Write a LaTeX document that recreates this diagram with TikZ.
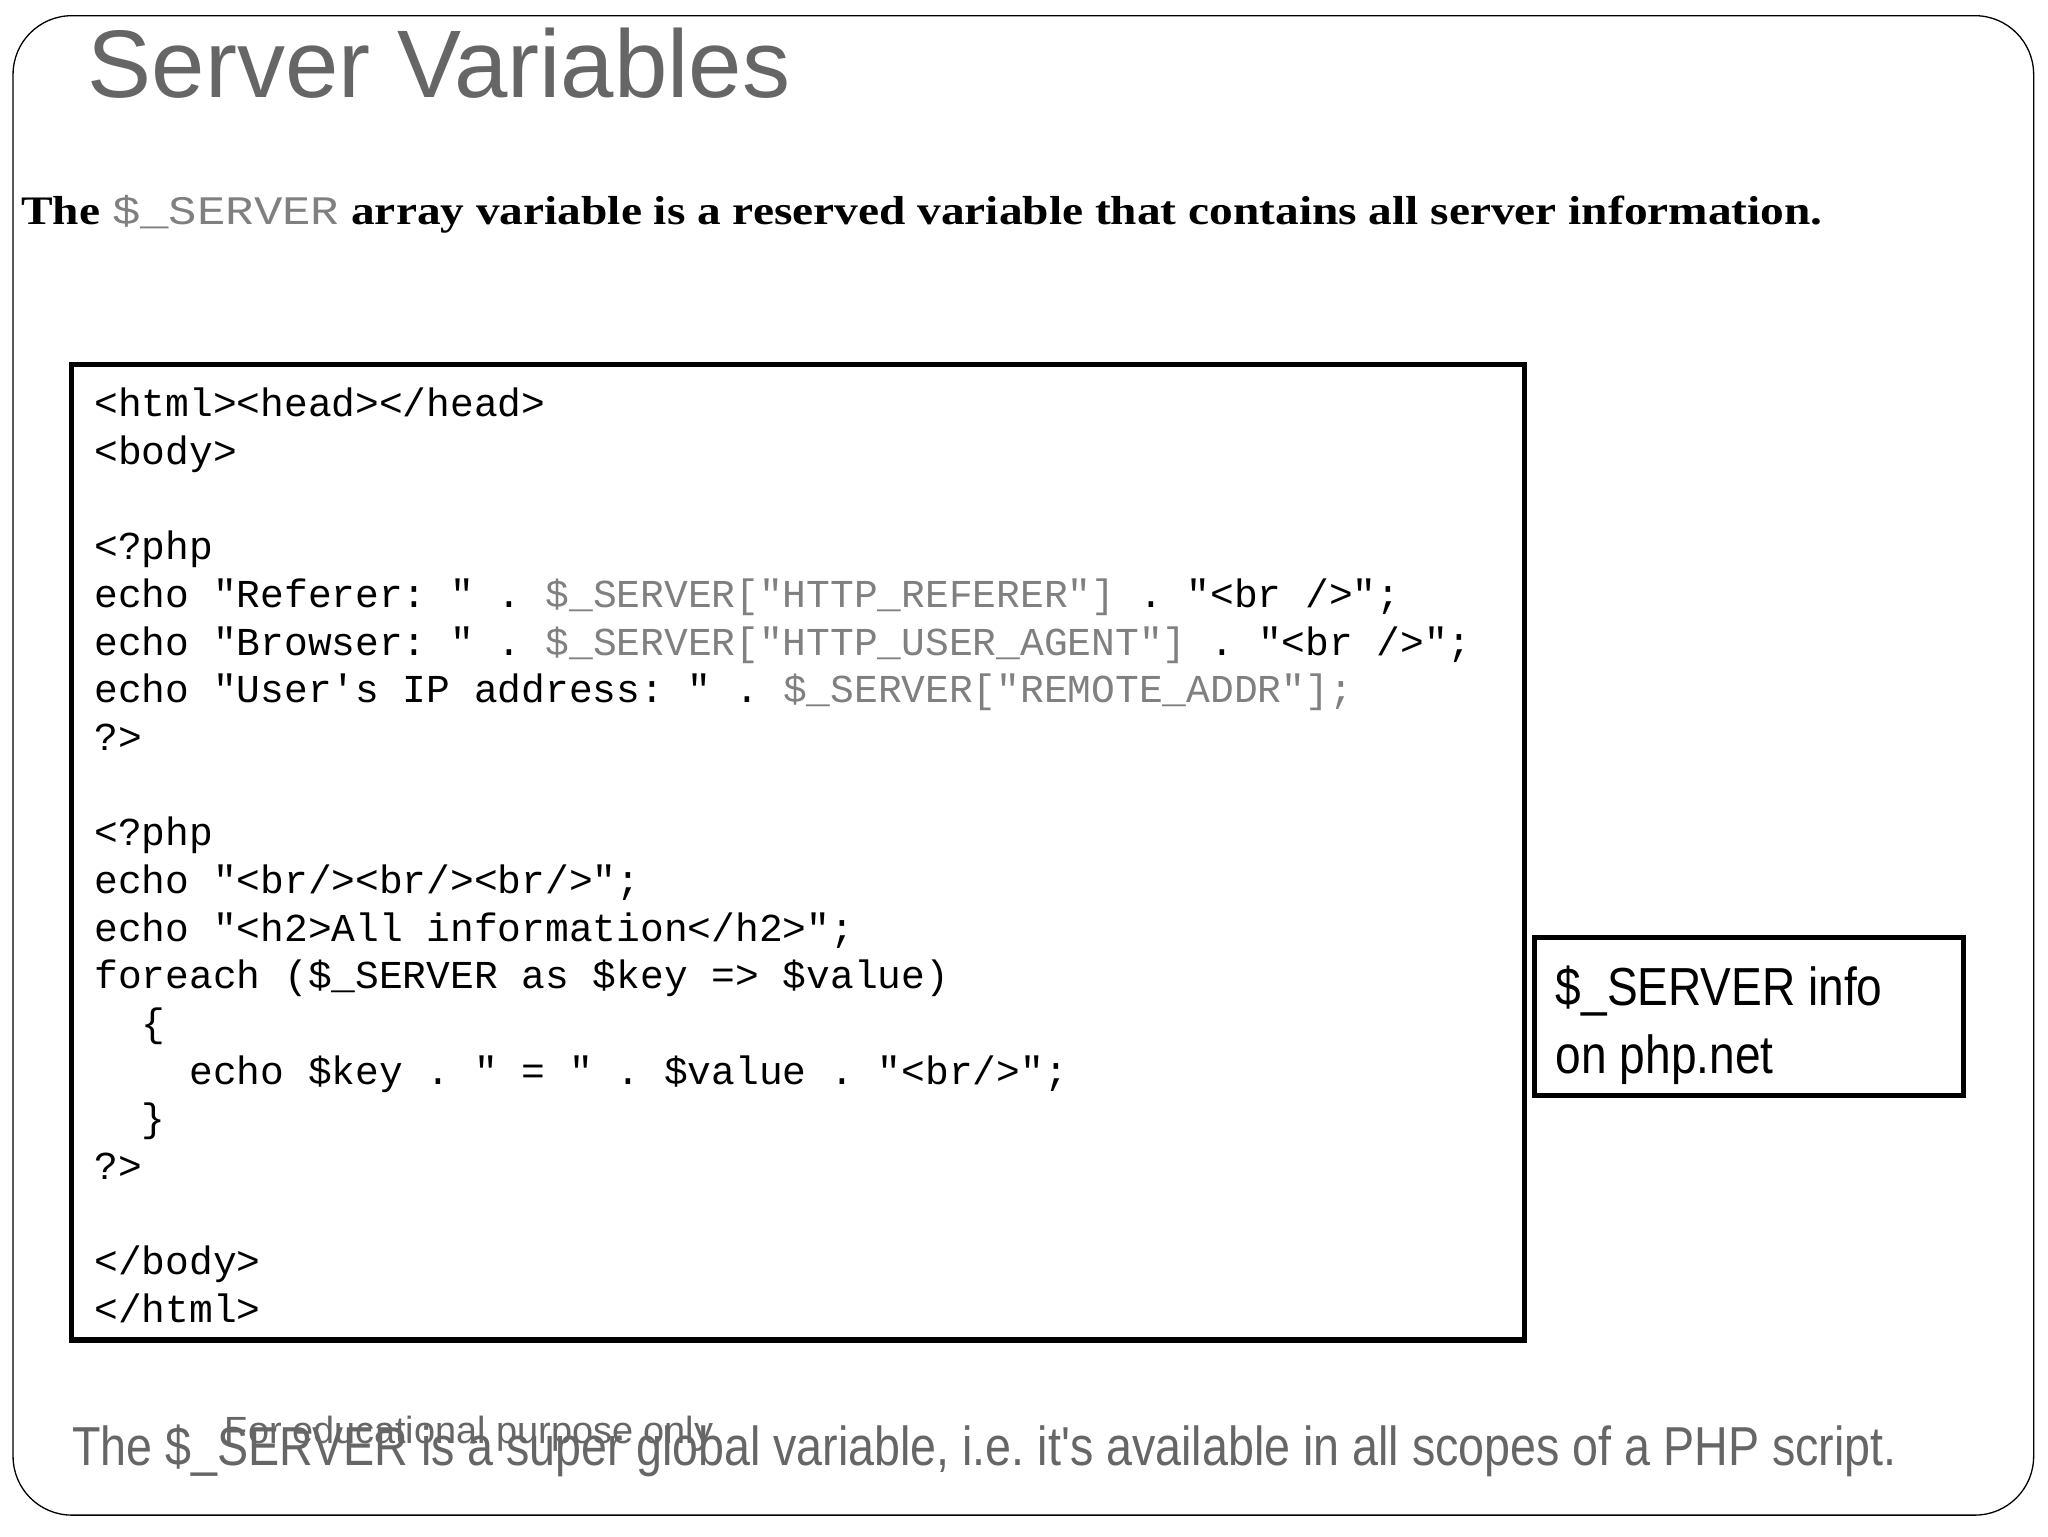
\documentclass[tikz,border=0pt]{standalone}
\usepackage{fontspec}
\setmainfont{Liberation Serif}
\newfontfamily\sansf{Liberation Sans}
\newfontfamily\codef{Liberation Mono}
\definecolor{tgray}{gray}{0.4}
\definecolor{cgray}{gray}{0.5}
\newcommand{\g}[1]{\textcolor{cgray}{#1}}
\newcommand{\ap}{\char39\relax}
\frenchspacing
\begin{document}
\begin{tikzpicture}[x=1pt,y=-1pt,
  code/.style={anchor=base west,inner sep=0,font=\codef\fontsize{30.3}{30}\selectfont},
  box/.style={draw,line width=4pt}]
\useasboundingbox (0,0) rectangle (1568,1176);
\draw[line width=1pt,rounded corners=45] (10,12) rectangle (1557,1160);
\node[anchor=base west,inner sep=0,text=tgray,font=\sansf\fontsize{73.5}{73.5}\selectfont] (title) at (67,75) {Server Variables};
\node[anchor=base west,inner sep=0,xscale=1.17,font=\bfseries\fontsize{31}{31}\selectfont] (sub) at (16,172) {The {\mdseries\codef\g{\$\_SERVER}} array variable is a reserved variable that contains all server information.};
\draw[box] (55,279) rectangle (1167,1026);
\node[code] (l1) at (72,319) {<html><head></head>};
\node[code] (l2) at (72,355.5) {<body>};
\node[code] (l4) at (72,428.5) {<?php};
\node[code] (l5) at (72,465) {echo\ "Referer:\ "\ .\ \g{\$\_SERVER["HTTP\_REFERER"]}\ .\ "<br\ />";};
\node[code] (l6) at (72,501.5) {echo\ "Browser:\ "\ .\ \g{\$\_SERVER["HTTP\_USER\_AGENT"]}\ .\ "<br\ />";};
\node[code] (l7) at (72,538) {echo\ "User\ap s\ IP\ address:\ "\ .\ \g{\$\_SERVER["REMOTE\_ADDR"];}};
\node[code] (l8) at (72,574.5) {?>};
\node[code] (l10) at (72,647.5) {<?php};
\node[code] (l11) at (72,684) {echo\ "<br/><br/><br/>";};
\node[code] (l12) at (72,720.5) {echo\ "<h2>All\ information</h2>";};
\node[code] (l13) at (72,757) {foreach\ (\$\_SERVER\ as\ \$key\ =>\ \$value)};
\node[code] (l14) at (72,793.5) {\ \ \{};
\node[code] (l15) at (72,830) {\ \ \ \ echo\ \$key\ .\ "\ =\ "\ .\ \$value\ .\ "<br/>";};
\node[code] (l16) at (72,866.5) {\ \ \}};
\node[code] (l17) at (72,903) {?>};
\node[code] (l19) at (72,976) {</body>};
\node[code] (l20) at (72,1012.5) {</html>};
\draw[box] (1175,718) rectangle (1503,839);
\node[anchor=base west,inner sep=0,xscale=0.86,font=\sansf\fontsize{41}{41}\selectfont] (info1) at (1191,770) {\$\_SERVER info};
\node[anchor=base west,inner sep=0,xscale=0.86,font=\sansf\fontsize{41}{41}\selectfont] (info2) at (1191,822) {on php.net};
\node[anchor=base west,inner sep=0,xscale=0.85,text=tgray,font=\sansf\fontsize{42}{42}\selectfont] (foot) at (55,1122) {The \$\_SERVER is a super global variable, i.e. it\ap s available in all scopes of a PHP script.};
\node[anchor=base west,inner sep=0,text=tgray,font=\sansf\fontsize{29}{29}\selectfont] (edu) at (172,1105) {For educational purpose only};
\end{tikzpicture}
\end{document}
